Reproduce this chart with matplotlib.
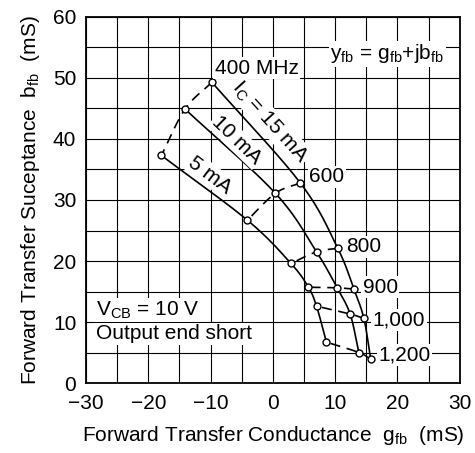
import numpy as np
import matplotlib
matplotlib.use("Agg")
import matplotlib.pyplot as plt

plt.rcParams['font.family'] = ['Liberation Sans', 'DejaVu Sans']
plt.rcParams['axes.unicode_minus'] = True

freqs = ["400 MHz", "600", "800", "900", "1,000", "1,200"]
g_15mA = [-9.8, 4.4, 10.4, 13.0, 14.6, 15.7]
b_15mA = [49.3, 32.8, 22.1, 15.4, 10.6, 3.9]
g_10mA = [-14.1, 0.4, 7.0, 10.3, 12.4, 13.8]
b_10mA = [44.9, 31.1, 21.5, 15.6, 11.3, 5.0]
g_5mA = [-17.9, -4.1, 2.9, 5.7, 7.0, 8.6]
b_5mA = [37.3, 26.7, 19.6, 15.7, 12.6, 6.7]

xticks = [-30, -20, -10, 0, 10, 20, 30]
yticks = [0, 10, 20, 30, 40, 50, 60]


def smooth(xs, ys, n=30):
    xs = np.asarray(xs, float); ys = np.asarray(ys, float)
    P = np.column_stack([xs, ys])
    P = np.vstack([2 * P[0] - P[1], P, 2 * P[-1] - P[-2]])
    out = []
    for i in range(1, len(P) - 2):
        p0, p1, p2, p3 = P[i - 1], P[i], P[i + 1], P[i + 2]
        t = np.linspace(0, 1, n, endpoint=False)[:, None]
        seg = 0.5 * ((2 * p1) + (-p0 + p2) * t + (2 * p0 - 5 * p1 + 4 * p2 - p3) * t ** 2
                     + (-p0 + 3 * p1 - 3 * p2 + p3) * t ** 3)
        out.append(seg)
    out.append(P[-2][None, :])
    out = np.vstack(out)
    return out[:, 0], out[:, 1]


fs = 15
fig = plt.figure(figsize=(4.75, 4.53), dpi=100)
ax = fig.add_axes([0.181, 0.1545, 0.787, 0.808])
ax.set_xlim(-30, 30)
ax.set_ylim(0, 60)
ax.set_xticks(xticks)
ax.set_yticks(yticks)
ax.set_xticks(np.arange(-25, 30, 10), minor=True)
ax.set_yticks(np.arange(5, 60, 10), minor=True)
ax.grid(True, which='both', color='black', linewidth=0.8)
ax.tick_params(which='both', length=0, labelsize=fs)
ax.tick_params(axis='x', pad=8)
ax.tick_params(axis='y', pad=7)
ax.set_xticklabels([f"{v}".replace('-', '\u2212') for v in xticks])
for s in ax.spines.values():
    s.set_linewidth(1.3)
ax.set_axisbelow(True)

lw = 1.2
for gs, bs in [(g_15mA, b_15mA), (g_10mA, b_10mA), (g_5mA, b_5mA)]:
    sx, sy = smooth(gs, bs)
    ax.plot(sx, sy, color='black', lw=lw, zorder=3)

for i in range(len(freqs)):
    fx = [g_15mA[i], g_10mA[i], g_5mA[i]]
    fy = [b_15mA[i], b_10mA[i], b_5mA[i]]
    sx, sy = smooth(fx, fy)
    ax.plot(sx, sy, color='black', lw=lw, ls=(0, (6, 4)), zorder=3)

for gs, bs in [(g_15mA, b_15mA), (g_10mA, b_10mA), (g_5mA, b_5mA)]:
    ax.plot(gs, bs, 'o', ms=5, mfc='white', mec='black', mew=1.0, zorder=4)

wb = dict(facecolor='white', edgecolor='none', pad=1.0)
label_pos = [(-9.3, 51.6), (5.8, 33.8), (11.8, 22.3), (14.4, 15.7), (16.0, 10.3), (16.9, 4.6)]
for (lx, ly), t in zip(label_pos, freqs):
    ax.text(lx, ly, t, fontsize=fs, ha='left', va='center', bbox=wb, zorder=5)

ax.text(9.2, 54.0, r"y$_\mathregular{fb}$ = g$_\mathregular{fb}$+jb$_\mathregular{fb}$",
        fontsize=fs, ha='left', va='center', bbox=wb, zorder=5)
ax.text(-28.4, 12.0, r"V$_\mathregular{CB}$ = 10 V", fontsize=fs, ha='left', va='center', bbox=wb, zorder=5)
ax.text(-28.4, 8.1, "Output end short", fontsize=fs, ha='left', va='center', bbox=wb, zorder=5)

ax.text(-0.5, 42.8, r"I$_\mathregular{C}$ = 15 mA", fontsize=fs, ha='center', va='center',
        rotation=-48, rotation_mode='anchor', bbox=wb, zorder=5)
ax.text(-5.8, 39.8, "10 mA", fontsize=fs, ha='center', va='center',
        rotation=-44, rotation_mode='anchor', bbox=wb, zorder=5)
ax.text(-10.1, 34.1, "5 mA", fontsize=fs, ha='center', va='center',
        rotation=-37, rotation_mode='anchor', bbox=wb, zorder=5)

ax.set_xlabel(r"Forward Transfer Conductance  g$_\mathregular{fb}$  (mS)", fontsize=fs, labelpad=8)
ax.set_ylabel(r"Forward Transfer Suceptance  b$_\mathregular{fb}$  (mS)", fontsize=fs, labelpad=8)

fig.savefig("out.png", dpi=100)
